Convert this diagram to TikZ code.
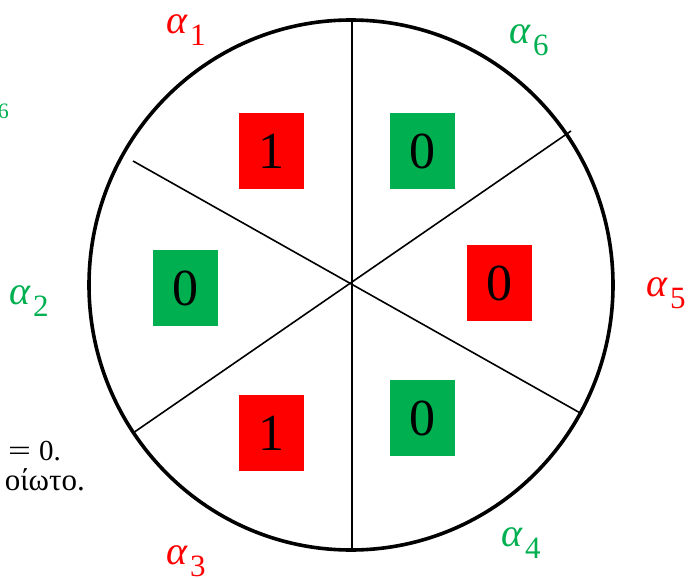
\documentclass[tikz,border=0pt]{standalone}
\usepackage{fontspec}
\newfontfamily\grkfont{Liberation Serif}
\definecolor{myred}{HTML}{FF0000}
\definecolor{mygreen}{HTML}{00B050}
\newcommand\alab[1]{{\grkfont\itshape α}\hspace{3pt}\raisebox{-12pt}{\grkfont\fontsize{31}{32}\selectfont #1}}
\tikzset{
  bit/.style={minimum width=65pt,minimum height=76pt,inner sep=0pt,font=\grkfont\fontsize{52}{60}\selectfont},
  redbit/.style={bit,fill=myred},
  greenbit/.style={bit,fill=mygreen},
  lab/.style={anchor=base west,inner sep=0pt,font=\fontsize{40}{44}\selectfont},
  spoke/.style={line width=1.6pt},
  rim/.style={line width=3.6pt}
}
\begin{document}
\begin{tikzpicture}[x=1pt,y=-1pt]
\useasboundingbox (0,0) rectangle (691,578);
\clip (0,0) rectangle (691,578);
% spoke end points
\coordinate (vt) at (352,19);
\coordinate (vb) at (352,551);
\coordinate (ul) at (133,161);
\coordinate (lr) at (582,414);
\coordinate (ur) at (571,131);
\coordinate (ll) at (133,433);
\draw[spoke] (vt) -- (vb);
\draw[spoke] (ul) -- (lr);
\draw[spoke] (ur) -- (ll);
\draw[rim] (351,285) ellipse [x radius=262, y radius=265];
% bits
\node[redbit] (b1) at (271.5,151) {1};
\node[greenbit] (b6) at (422.5,151) {0};
\node[greenbit] (b2) at (185.5,288) {0};
\node[redbit] (b5) at (499.5,283) {0};
\node[redbit] (b3) at (271.5,433) {1};
\node[greenbit] (b4) at (422.5,418) {0};
% labels
\node[lab,text=myred] (a1) at (166,34) {\alab{1}};
\node[lab,text=mygreen] (a6) at (509,44) {\alab{6}};
\node[lab,text=mygreen] (a2) at (9,304) {\alab{2}};
\node[lab,text=myred] (a5) at (646,296) {\alab{5}};
\node[lab,text=mygreen] (a4) at (501,546) {\alab{4}};
\node[lab,text=myred] (a3) at (166,564) {\alab{3}};
% clipped text at the left edge
\node[anchor=base east,inner sep=0pt,text=mygreen,font=\grkfont\fontsize{22}{24}\selectfont] (t6) at (9,118) {6};
\node[anchor=base east,inner sep=0pt,font=\grkfont\fontsize{29}{31}\selectfont] (t0) at (61,460) {\scalebox{1.4}[1]{=}\hspace{8pt}0.};
\node[anchor=base east,inner sep=0pt,font=\grkfont\fontsize{31}{33}\selectfont] (tg) at (85,490) {οίωτο.};
\end{tikzpicture}
\end{document}
